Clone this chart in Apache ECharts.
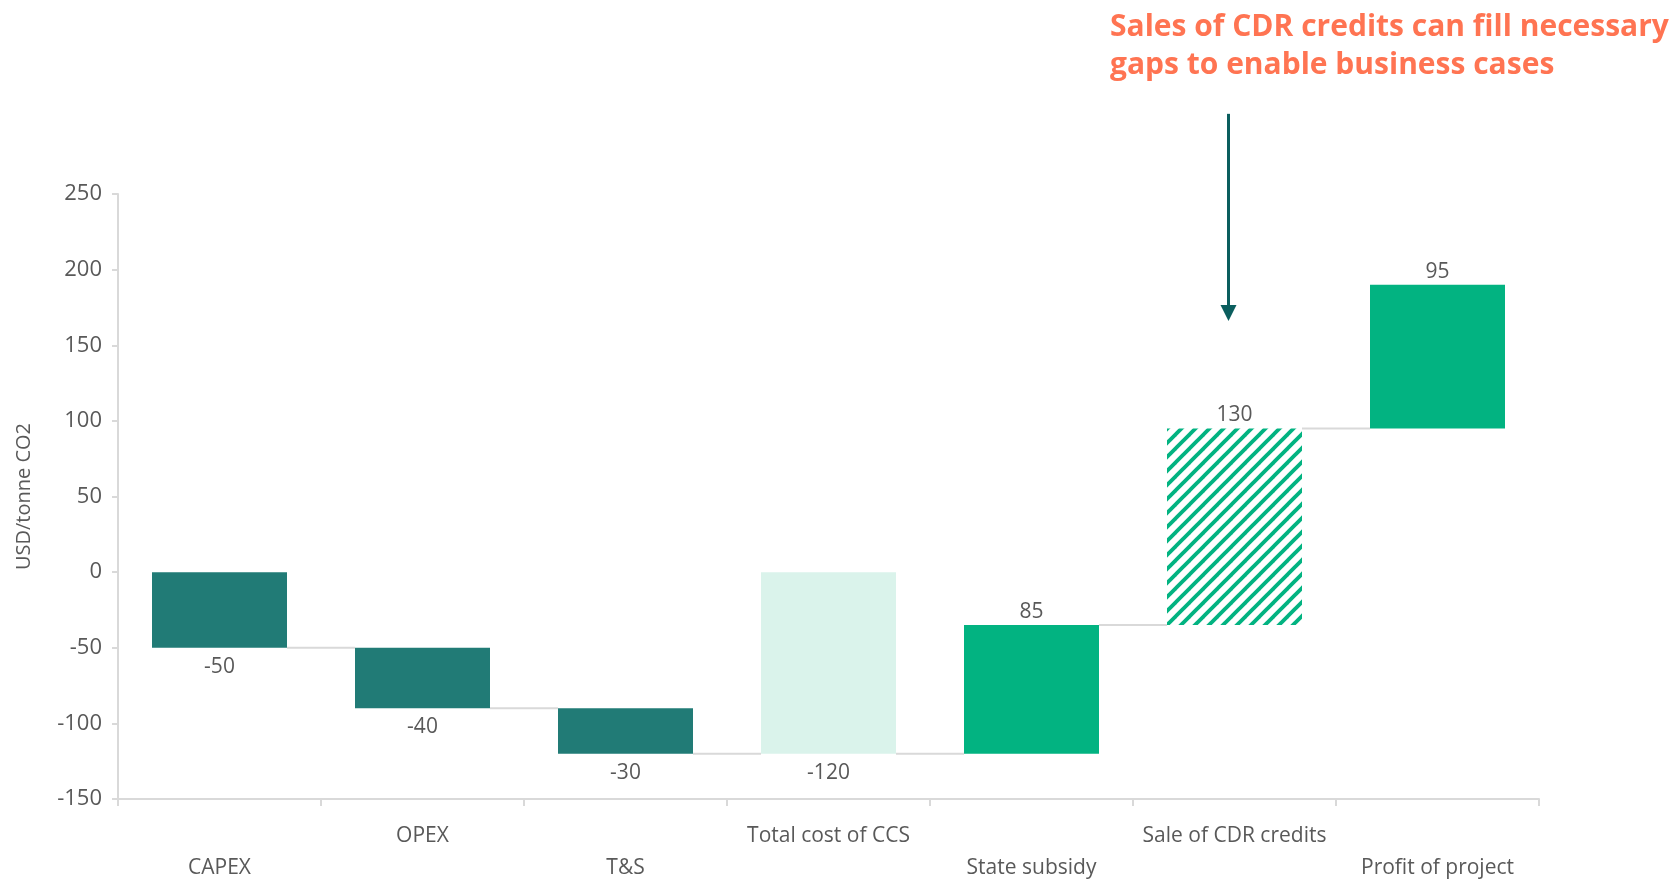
<!DOCTYPE html>
<html>
<head>
<meta charset="UTF-8">
<title>CCS waterfall</title>
<script src="https://cdn.jsdelivr.net/npm/echarts@6/dist/echarts.min.js"></script>
<style>
  html, body { margin: 0; padding: 0; background: #fff; }
  #chart { width: 1675px; height: 884px; }
</style>
</head>
<body>
<div id="chart"></div>
<script type="text/javascript">
// data
var categories = ['CAPEX', 'OPEX', 'T&S', 'Total cost of CCS', 'State subsidy', 'Sale of CDR credits', 'Profit of project'];
var changes = [-50, -40, -30, -120, 85, 130, 95];
var kinds = ['cost', 'cost', 'cost', 'total', 'gain', 'credit', 'gain'];
var yMin = -150, yMax = 250, yStep = 50;
var yName = 'USD/tonne CO2';
var titleLines = ['Sales of CDR credits can fill necessary', 'gaps to enable business cases'];
var arrowFrom = 303, arrowTo = 166;   // annotation arrow over 'Sale of CDR credits'

var FONT = '"Open Sans", "Noto Sans", sans-serif';
var TEXT = '#595959';
var GRAYLINE = '#D9D9D9';

// hatched fill for the CDR credit bar
var tile = document.createElement('canvas');
tile.width = 14; tile.height = 14;
var g = tile.getContext('2d');
g.fillStyle = '#ffffff';
g.fillRect(0, 0, 14, 14);
g.strokeStyle = '#02B381';
g.lineWidth = 3.8;
[0, 14, 28].forEach(function (c) {
    g.beginPath();
    g.moveTo(c - 20, 20);
    g.lineTo(c + 20, -20);
    g.stroke();
});

var fills = {
    cost: '#217B76',
    total: '#DAF3EB',
    gain: '#02B381',
    credit: { image: tile, repeat: 'repeat' }
};

// running totals -> bar ranges
var rows = [];
var run = 0;
for (var i = 0; i < categories.length; i++) {
    var from, to;
    if (kinds[i] === 'total') { from = 0; to = run; }
    else { from = run; to = run + changes[i]; run = to; }
    rows.push([i, Math.min(from, to), Math.max(from, to), changes[i], run]);
}

function renderItem(params, api) {
    var i = api.value(0);
    var lo = api.coord([i, api.value(1)]);
    var hi = api.coord([i, api.value(2)]);
    var w = api.size([1, 0])[0] * 0.665;
    var ch = api.value(3);
    var children = [];
    if (i < categories.length - 1) {
        var p = api.coord([i, api.value(4)]);
        var q = api.coord([i + 1, api.value(4)]);
        children.push({
            type: 'line',
            shape: { x1: p[0] + w / 2, y1: p[1], x2: q[0] - w / 2, y2: p[1] },
            style: { stroke: GRAYLINE, lineWidth: 2 }
        });
    }
    children.push({
        type: 'rect',
        shape: { x: lo[0] - w / 2, y: hi[1], width: w, height: lo[1] - hi[1] },
        style: { fill: fills[kinds[i]] }
    });
    children.push({
        type: 'text',
        x: lo[0],
        y: ch < 0 ? lo[1] + 19 : hi[1] - 13,
        style: {
            text: String(ch), fill: TEXT, fontSize: 21, fontFamily: FONT,
            align: 'center', verticalAlign: 'middle'
        }
    });
    return { type: 'group', children: children };
}

var chart = echarts.init(document.getElementById('chart'));
chart.setOption({
    animation: false,
    backgroundColor: '#fff',
    title: {
        text: titleLines.join('\n'),
        left: 1105,
        top: 3,
        textStyle: { color: '#FF7452', fontSize: 30, fontWeight: 'bold', fontFamily: FONT, lineHeight: 38 }
    },
    grid: { left: 118, right: 136, top: 194, bottom: 82 },
    xAxis: {
        type: 'category',
        data: categories,
        axisLine: { onZero: false, lineStyle: { color: GRAYLINE, width: 2 } },
        axisTick: { show: true, length: 7, lineStyle: { color: GRAYLINE, width: 2 } },
        axisLabel: {
            interval: 0,
            color: TEXT,
            fontSize: 21,
            fontFamily: FONT,
            lineHeight: 32,
            margin: 21,
            formatter: function (v, idx) { return idx % 2 === 0 ? '\n' + v : v; }
        }
    },
    yAxis: {
        type: 'value',
        min: yMin,
        max: yMax,
        interval: yStep,
        name: yName,
        nameLocation: 'middle',
        nameGap: 84,
        nameTextStyle: { color: TEXT, fontSize: 20, fontFamily: FONT },
        axisLine: { show: true, lineStyle: { color: GRAYLINE, width: 2 } },
        axisTick: { show: true, length: 6, lineStyle: { color: GRAYLINE, width: 2 } },
        splitLine: { show: false },
        axisLabel: { color: TEXT, fontSize: 22, fontFamily: FONT, margin: 16 }
    },
    series: [{
        type: 'custom',
        renderItem: renderItem,
        encode: { x: 0, y: [1, 2] },
        data: rows
    }]
});

// annotation arrow
var ax = chart.convertToPixel({ xAxisIndex: 0 }, categories[5]) - 6;
var y1 = chart.convertToPixel({ yAxisIndex: 0 }, arrowFrom);
var y2 = chart.convertToPixel({ yAxisIndex: 0 }, arrowTo);
chart.setOption({
    graphic: [{
        type: 'line',
        shape: { x1: ax, y1: y1, x2: ax, y2: y2 - 14 },
        style: { stroke: '#0B5E5E', lineWidth: 3 }
    }, {
        type: 'polygon',
        shape: { points: [[ax - 8, y2 - 16], [ax + 8, y2 - 16], [ax, y2]] },
        style: { fill: '#0B5E5E' }
    }]
});
</script>
</body>
</html>
